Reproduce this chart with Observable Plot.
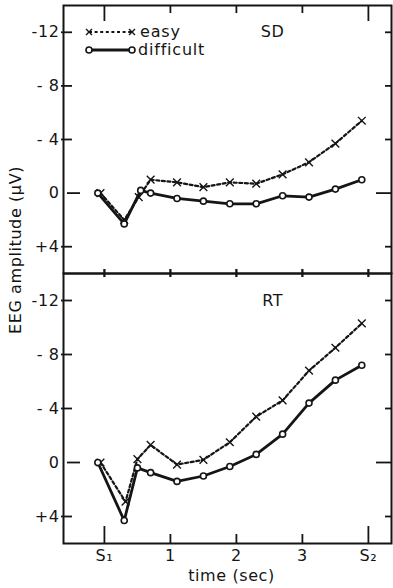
<!DOCTYPE html>
<html>
<head>
<meta charset="utf-8">
<script src="https://cdn.jsdelivr.net/npm/d3@7"></script>
<script src="https://cdn.jsdelivr.net/npm/@observablehq/plot@0.6"></script>
<style>
  html, body { margin: 0; padding: 0; background: #fff; }
  #chart { position: relative; width: 393px; height: 588px; overflow: hidden; background: #fff;
           font-family: "DejaVu Sans", sans-serif; color: #111; }
  #chart svg.panel { position: absolute; left: 0; }
  #ylabel { position: absolute; left: 15px; top: 250px; transform: translate(-50%, -50%) rotate(-90deg);
            white-space: nowrap; font-size: 16px; letter-spacing: 0.6px; }
  #legend { position: absolute; left: 0; top: 0; }
</style>
</head>
<body>
<div id="chart">
  <div id="ylabel">EEG amplitude (µV)</div>
</div>
<script>
// ---------- data (time in s after S1, amplitude in µV; negative is drawn upward) ----------
const panelLabels = ["SD", "RT"];
const seriesNames = ["easy", "difficult"];

const sdEasyTime      = [-0.06, 0.3, 0.52, 0.7, 1.1, 1.5, 1.9, 2.3, 2.7, 3.1, 3.5, 3.9];
const sdEasyValue     = [0, 2.0, 0.3, -1.0, -0.8, -0.45, -0.8, -0.7, -1.4, -2.3, -3.7, -5.4];
const sdDifficultTime = [-0.1, 0.3, 0.55, 0.7, 1.1, 1.5, 1.9, 2.3, 2.7, 3.1, 3.5, 3.9];
const sdDifficultValue= [0, 2.3, -0.2, 0, 0.4, 0.6, 0.8, 0.8, 0.2, 0.3, -0.3, -1.0];

const rtEasyTime      = [-0.06, 0.32, 0.5, 0.7, 1.1, 1.5, 1.9, 2.3, 2.7, 3.1, 3.5, 3.9];
const rtEasyValue     = [0, 2.9, -0.25, -1.3, 0.15, -0.2, -1.5, -3.4, -4.6, -6.8, -8.5, -10.3];
const rtDifficultTime = [-0.1, 0.3, 0.5, 0.7, 1.1, 1.5, 1.9, 2.3, 2.7, 3.1, 3.5, 3.9];
const rtDifficultValue= [0, 4.3, 0.4, 0.75, 1.4, 1.0, 0.3, -0.6, -2.1, -4.4, -6.1, -7.2];

const xTickValues = [0, 1, 2, 3, 4];
const xTickLabels = ["S₁", "1", "2", "3", "S₂"];
const yTickValues = [-12, -8, -4, 0, 4];
const yTickLabels = ["-12", "- 8", "- 4", "0", "+4"];
const xLabel = "time (sec)";

const xDomain = [-0.62, 4.35];
const yDomain = [6, -14];

// ---------- helpers ----------
const zip = (t, v) => t.map((d, i) => ({t: d, v: v[i]}));
const yFmt = new Map(yTickValues.map((d, i) => [d, yTickLabels[i]]));
const xFmt = new Map(xTickValues.map((d, i) => [d, xTickLabels[i]]));
const xLong = xTickValues.filter((d, i) => xTickLabels[i].startsWith("S"));
const xShort = xTickValues.filter((d, i) => !xTickLabels[i].startsWith("S"));
const yLong = yTickValues.filter(d => d === 0);
const yShort = yTickValues.filter(d => d !== 0);

const W = 393, ML = 63, MR = 2;
const FW = W - ML - MR;
const INK = "#151515";
const FONT = "DejaVu Sans, sans-serif";

function panel({easy, difficult, label, top, height, mt, mb, bottom}) {
  const FH = height - mt - mb;
  const marks = [
    // left inward ticks
    Plot.tickY(yShort, {y: d => d, insetLeft: -2, insetRight: FW - 9, stroke: INK, strokeWidth: 1.8}),
    Plot.tickY(yLong, {y: d => d, insetLeft: 4, insetRight: FW - 17, stroke: INK, strokeWidth: 1.8}),
    // right inward ticks
    Plot.tickY(yShort, {y: d => d, insetLeft: FW - 6, stroke: INK, strokeWidth: 1.8}),
    Plot.tickY(yLong, {y: d => d, insetLeft: FW - 15, stroke: INK, strokeWidth: 1.8}),
    Plot.axisY(yTickValues, {tickFormat: d => yFmt.get(d), tickSize: 0, tickPadding: 4, fontSize: 16, label: null}),
    // easy (dashed, ×)
    Plot.line(easy, {x: "t", y: "v", stroke: INK, strokeWidth: 2.2, strokeDasharray: "3,2.6"}),
    // difficult (solid, o)
    Plot.line(difficult, {x: "t", y: "v", stroke: INK, strokeWidth: 2.8}),
    Plot.dot(easy, {x: "t", y: "v", symbol: "times", r: 3.6, stroke: INK, strokeWidth: 1.4}),
    Plot.dot(difficult, {x: "t", y: "v", r: 3, fill: "white", stroke: INK, strokeWidth: 1.6}),
    Plot.text([label], {x: () => 2.55, y: () => -12, text: d => d, fontSize: 16, fill: INK}),
    Plot.frame({stroke: INK, strokeWidth: 2})
  ];
  if (!bottom) {
    marks.push(
      Plot.tickX(xShort, {x: d => d, insetBottom: FH - 8, stroke: INK, strokeWidth: 1.8}),
      Plot.tickX(xLong, {x: d => d, insetBottom: FH - 16, stroke: INK, strokeWidth: 1.8}),
      Plot.tickX(xTickValues, {x: d => d, insetTop: FH - 4, insetBottom: -4, stroke: INK, strokeWidth: 1.8})
    );
  } else {
    marks.push(
      Plot.tickX(xShort, {x: d => d, insetTop: FH - 9, stroke: INK, strokeWidth: 1.8}),
      Plot.tickX(xLong, {x: d => d, insetTop: FH - 17, stroke: INK, strokeWidth: 1.8}),
      Plot.tickX(xTickValues, {x: d => d, insetTop: -4, insetBottom: FH - 4, stroke: INK, strokeWidth: 1.8}),
      Plot.axisX(xTickValues, {tickFormat: d => xFmt.get(d), tickSize: 0, tickPadding: 6, fontSize: 16, label: null}),
      Plot.text([xLabel], {frameAnchor: "bottom", dx: 4, dy: 37, text: d => d, fontSize: 16, fill: INK})
    );
  }
  const svg = Plot.plot({
    width: W, height, marginLeft: ML, marginRight: MR, marginTop: mt, marginBottom: mb,
    x: {domain: xDomain, axis: null},
    y: {domain: yDomain, axis: null},
    style: {background: "transparent", overflow: "visible", fontFamily: FONT, fontSize: "16px", color: INK},
    marks
  });
  svg.classList.add("panel");
  svg.style.top = top + "px";
  svg.style.position = "absolute";
  svg.style.letterSpacing = "0.6px";
  return svg;
}

const chart = document.getElementById("chart");
chart.appendChild(panel({
  easy: zip(sdEasyTime, sdEasyValue), difficult: zip(sdDifficultTime, sdDifficultValue),
  label: panelLabels[0], top: 0, height: 274, mt: 5, mb: 1, bottom: false
}));
chart.appendChild(panel({
  easy: zip(rtEasyTime, rtEasyValue), difficult: zip(rtDifficultTime, rtDifficultValue),
  label: panelLabels[1], top: 268, height: 320, mt: 5, mb: 45, bottom: true
}));

// ---------- legend (inside the upper panel) ----------
const ns = "http://www.w3.org/2000/svg";
const lg = document.createElementNS(ns, "svg");
lg.setAttribute("id", "legend");
lg.setAttribute("width", 393);
lg.setAttribute("height", 80);
const rows = [{y: 32, dashed: true, tx: 140}, {y: 50, dashed: false, tx: 138}];
rows.forEach((r, i) => {
  const line = document.createElementNS(ns, "line");
  line.setAttribute("x1", 89); line.setAttribute("x2", 132);
  line.setAttribute("y1", r.y); line.setAttribute("y2", r.y);
  line.setAttribute("stroke", INK);
  line.setAttribute("stroke-width", r.dashed ? 2.2 : 2.8);
  if (r.dashed) line.setAttribute("stroke-dasharray", "3,2.6");
  lg.appendChild(line);
  [89, 132].forEach(cx => {
    if (r.dashed) {
      const p = document.createElementNS(ns, "path");
      p.setAttribute("d", `M${cx-3},${r.y-3}L${cx+3},${r.y+3}M${cx-3},${r.y+3}L${cx+3},${r.y-3}`);
      p.setAttribute("stroke", INK); p.setAttribute("stroke-width", 1.4);
      lg.appendChild(p);
    } else {
      const c = document.createElementNS(ns, "circle");
      c.setAttribute("cx", cx); c.setAttribute("cy", r.y); c.setAttribute("r", 3);
      c.setAttribute("fill", "white"); c.setAttribute("stroke", INK); c.setAttribute("stroke-width", 1.6);
      lg.appendChild(c);
    }
  });
  const t = document.createElementNS(ns, "text");
  t.setAttribute("x", r.tx); t.setAttribute("y", r.y + 5);
  t.setAttribute("font-family", FONT); t.setAttribute("font-size", 16);
  t.setAttribute("letter-spacing", "0.8"); t.setAttribute("fill", INK);
  t.textContent = seriesNames[i];
  lg.appendChild(t);
});
chart.appendChild(lg);
</script>
</body>
</html>
